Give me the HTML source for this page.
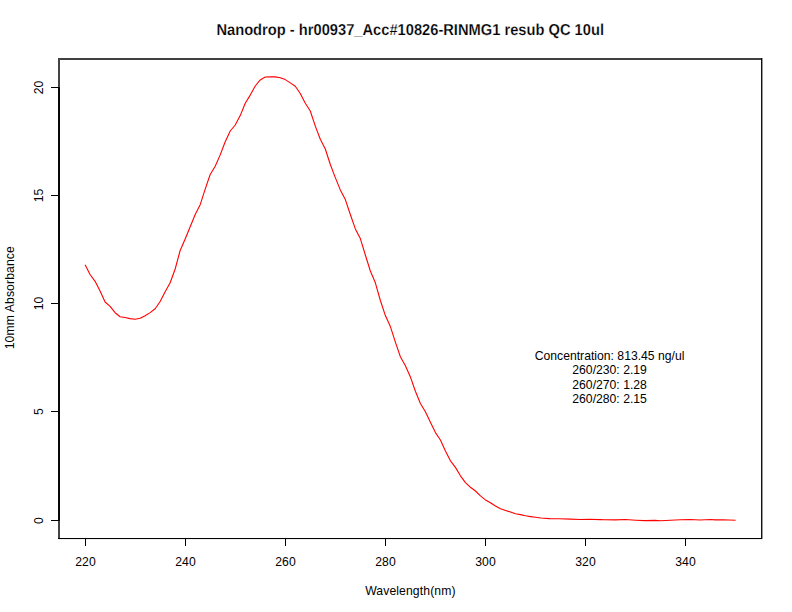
<!DOCTYPE html>
<html><head><meta charset="utf-8"><style>html,body{margin:0;padding:0;background:#fff;width:792px;height:612px;overflow:hidden}svg{display:block}</style></head>
<body><svg width="792" height="612" viewBox="0 0 792 612">
<rect x="0" y="0" width="792" height="612" fill="#fff"/>
<rect x="58" y="58" width="704" height="2" fill="#404040"/>
<rect x="762" y="58" width="1" height="2" fill="#999"/>
<rect x="58" y="58" width="2" height="480" fill="#444"/>
<rect x="58" y="87" width="2" height="434" fill="#080808"/>
<rect x="761" y="58" width="1" height="481" fill="#111"/>
<rect x="762" y="60" width="1" height="479" fill="#9a9a9a"/>
<rect x="58" y="538" width="703" height="1" fill="#000"/>
<rect x="761" y="538" width="1" height="1" fill="#000"/>
<rect x="762" y="538" width="1" height="1" fill="#aaa"/>
<rect x="58" y="539" width="705" height="1" fill="#f0f0f0"/>
<rect x="51" y="520" width="7" height="1" fill="#000"/>
<text x="43" y="520.5" transform="rotate(-90 43 520.5)" text-anchor="middle" style="font-family:'Liberation Sans',sans-serif;font-size:12.2px">0</text>
<rect x="51" y="411" width="7" height="1" fill="#000"/>
<text x="43" y="411.5" transform="rotate(-90 43 411.5)" text-anchor="middle" style="font-family:'Liberation Sans',sans-serif;font-size:12.2px">5</text>
<rect x="51" y="303" width="7" height="1" fill="#000"/>
<text x="43" y="303.5" transform="rotate(-90 43 303.5)" text-anchor="middle" style="font-family:'Liberation Sans',sans-serif;font-size:12.2px">10</text>
<rect x="51" y="195" width="7" height="1" fill="#000"/>
<text x="43" y="195.5" transform="rotate(-90 43 195.5)" text-anchor="middle" style="font-family:'Liberation Sans',sans-serif;font-size:12.2px">15</text>
<rect x="51" y="87" width="7" height="1" fill="#000"/>
<text x="43" y="87.5" transform="rotate(-90 43 87.5)" text-anchor="middle" style="font-family:'Liberation Sans',sans-serif;font-size:12.2px">20</text>
<rect x="85" y="539" width="1" height="7" fill="#000"/>
<text x="85.5" y="565.9" text-anchor="middle" style="font-family:'Liberation Sans',sans-serif;font-size:12.2px">220</text>
<rect x="185" y="539" width="1" height="7" fill="#000"/>
<text x="185.5" y="565.9" text-anchor="middle" style="font-family:'Liberation Sans',sans-serif;font-size:12.2px">240</text>
<rect x="285" y="539" width="1" height="7" fill="#000"/>
<text x="285.5" y="565.9" text-anchor="middle" style="font-family:'Liberation Sans',sans-serif;font-size:12.2px">260</text>
<rect x="385" y="539" width="1" height="7" fill="#000"/>
<text x="385.5" y="565.9" text-anchor="middle" style="font-family:'Liberation Sans',sans-serif;font-size:12.2px">280</text>
<rect x="485" y="539" width="1" height="7" fill="#000"/>
<text x="485.5" y="565.9" text-anchor="middle" style="font-family:'Liberation Sans',sans-serif;font-size:12.2px">300</text>
<rect x="585" y="539" width="1" height="7" fill="#000"/>
<text x="585.5" y="565.9" text-anchor="middle" style="font-family:'Liberation Sans',sans-serif;font-size:12.2px">320</text>
<rect x="685" y="539" width="1" height="7" fill="#000"/>
<text x="685.5" y="565.9" text-anchor="middle" style="font-family:'Liberation Sans',sans-serif;font-size:12.2px">340</text>
<g transform="translate(410.2 35) scale(1.006 1.09)"><text x="0" y="0" text-anchor="middle" style="font-family:'Liberation Sans',sans-serif;font-size:14.6px;font-weight:bold;text-rendering:geometricPrecision;stroke:#fff;stroke-width:0.2px">Nanodrop - hr00937_Acc#10826-RINMG1 resub QC 10ul</text></g>
<text x="410.4" y="594.9" text-anchor="middle" style="font-family:'Liberation Sans',sans-serif;font-size:12.2px;letter-spacing:0.11px">Wavelength(nm)</text>
<text x="14" y="297.7" transform="rotate(-90 14 297.7)" text-anchor="middle" style="font-family:'Liberation Sans',sans-serif;font-size:12.2px;letter-spacing:0.1px">10mm Absorbance</text>
<text x="609.6" y="360.1" text-anchor="middle" style="font-family:'Liberation Sans',sans-serif;font-size:12.2px">Concentration: 813.45 ng/ul</text>
<text x="609.6" y="373.7" text-anchor="middle" style="font-family:'Liberation Sans',sans-serif;font-size:12.2px">260/230: 2.19</text>
<text x="609.6" y="388.9" text-anchor="middle" style="font-family:'Liberation Sans',sans-serif;font-size:12.2px">260/270: 1.28</text>
<text x="609.6" y="403.2" text-anchor="middle" style="font-family:'Liberation Sans',sans-serif;font-size:12.2px">260/280: 2.15</text>
<polyline points="85.07,264.70 90.07,274.50 95.08,281.30 100.08,291.00 105.09,302.00 110.09,306.40 115.10,312.70 120.10,316.80 125.11,317.50 130.12,318.60 135.12,319.30 140.12,318.30 145.13,315.80 150.13,312.60 155.14,308.80 160.14,301.50 165.15,291.70 170.15,282.70 175.16,269.00 180.16,250.50 185.17,239.00 190.18,226.80 195.18,214.50 200.19,204.70 205.19,189.20 210.19,174.50 215.20,166.30 220.20,154.90 225.21,141.70 230.22,131.00 235.22,125.00 240.22,115.60 245.23,103.30 250.23,95.10 255.24,86.00 260.25,79.90 265.25,77.00 270.25,76.80 275.26,76.90 280.26,77.70 285.27,79.60 290.27,82.90 295.28,86.30 300.28,93.50 305.29,103.20 310.29,111.00 315.30,126.10 320.30,139.20 325.31,149.00 330.31,164.50 335.32,177.60 340.32,189.90 345.33,199.60 350.33,214.50 355.34,228.90 360.34,238.60 365.35,255.00 370.35,271.00 375.36,282.80 380.37,300.50 385.37,315.60 390.38,326.60 395.38,342.10 400.38,356.80 405.39,365.80 410.39,376.90 415.40,391.20 420.40,403.50 425.41,411.70 430.41,422.30 435.42,432.60 440.43,440.00 445.43,451.00 450.44,460.80 455.44,467.40 460.44,475.80 465.45,482.60 470.45,487.30 475.46,491.00 480.46,495.90 485.47,499.90 490.47,502.70 495.48,506.00 500.48,508.80 505.49,510.40 510.50,512.00 515.50,513.80 520.50,514.60 525.51,515.80 530.51,516.60 535.52,517.30 540.80,518.00 543.80,518.20 549.80,518.60 558.90,518.70 570.30,519.10 580.20,519.50 589.20,519.30 600.00,519.65 604.80,519.70 615.50,519.85 625.30,519.50 635.90,520.20 645.00,520.60 655.00,520.40 660.60,520.75 670.50,520.20 680.30,519.70 690.20,519.50 700.00,520.00 710.60,519.50 715.20,519.85 722.70,519.70 735.60,520.20" fill="none" stroke="#f00" stroke-width="1.1" stroke-linejoin="round"/>
</svg></body></html>
